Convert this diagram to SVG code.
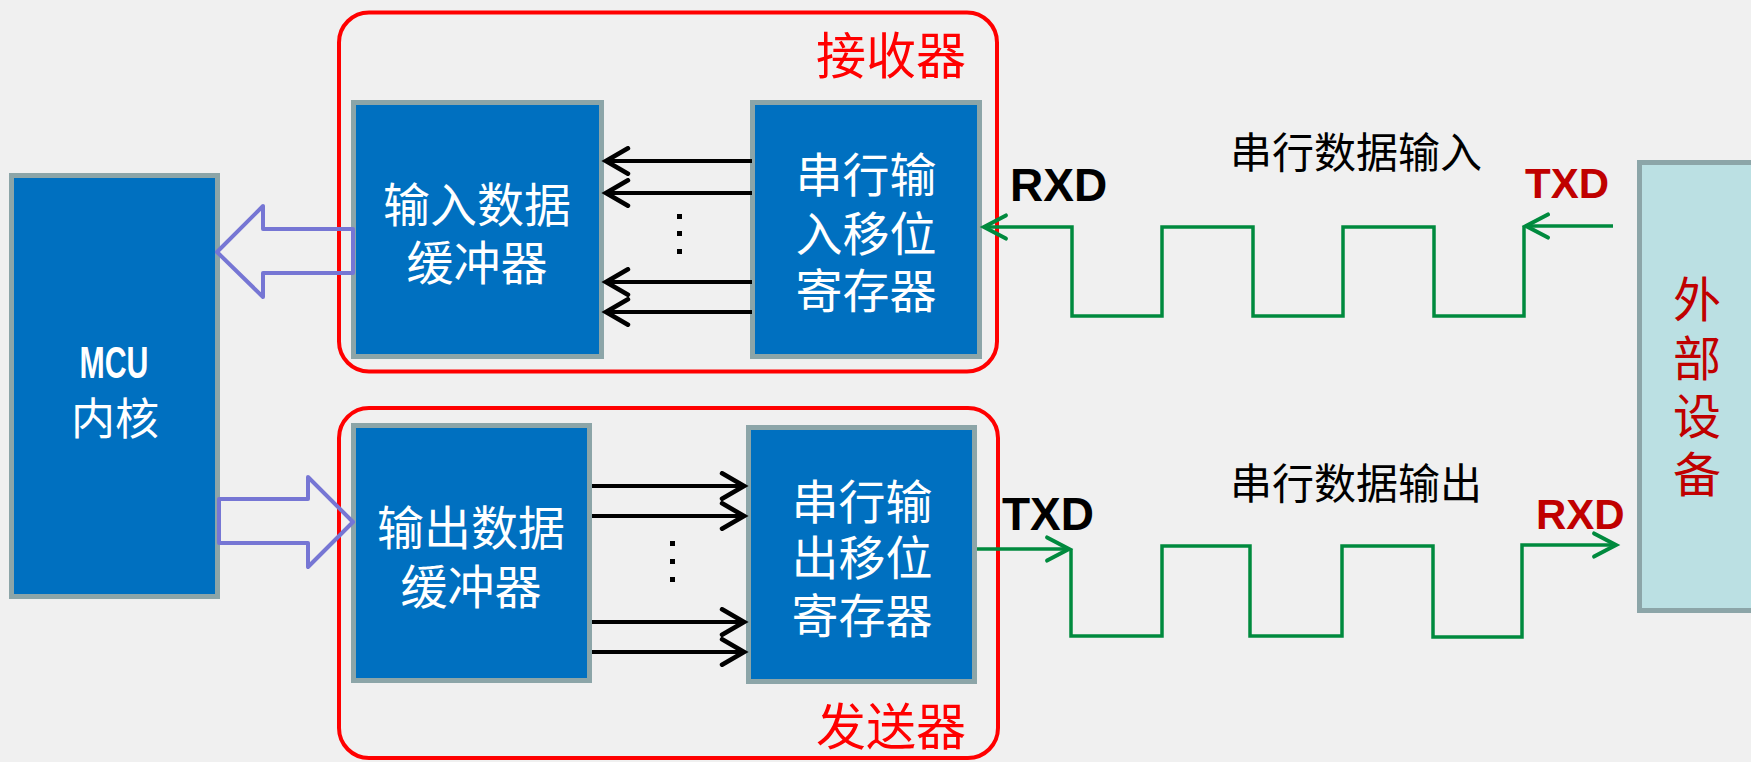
<svg xmlns="http://www.w3.org/2000/svg" width="1751" height="762" viewBox="0 0 1751 762">
<style>
.blk{fill:#0070C0;stroke:#8CA5A8;stroke-width:5}
.ext{fill:#BBE0E3;stroke:#8CA5A8;stroke-width:5}
.grp{fill:none;stroke:#FF0000;stroke-width:4}
.wt{font-family:"Noto Sans CJK SC","Noto Sans",sans-serif;fill:#FFFFFF;text-anchor:middle}
.rd{font-family:"Noto Sans CJK SC",sans-serif;fill:#FF0000;font-size:50px;text-anchor:middle}
.bk{font-family:"Noto Sans CJK SC",sans-serif;fill:#000000;font-size:42px;text-anchor:middle}
.lbl{font-family:"Liberation Sans",Arial,sans-serif;font-weight:bold}
.bus{stroke:#000;stroke-width:4;fill:none}
.wave{stroke:#008A3E;stroke-width:3.5;fill:none}
.hol{fill:none;stroke:#7676D4;stroke-width:4;stroke-linejoin:round}
</style>
<defs>
<marker id="ab" markerUnits="userSpaceOnUse" markerWidth="30" markerHeight="30" viewBox="-22 -13 26 26" refX="0" refY="0" orient="auto">
<path d="M-19,-11 L0,0 L-19,11" fill="none" stroke="#000" stroke-width="4" stroke-linecap="round" stroke-linejoin="miter"/>
</marker>
<marker id="ag" markerUnits="userSpaceOnUse" markerWidth="30" markerHeight="30" viewBox="-22 -13 26 26" refX="0" refY="0" orient="auto">
<path d="M-19,-10 L0,0 L-19,10" fill="none" stroke="#008A3E" stroke-width="3.5" stroke-linecap="round" stroke-linejoin="miter"/>
</marker>
</defs>
<rect width="1751" height="762" fill="#F0F0F0"/>

<g id="receiver">
<rect class="grp" x="339" y="12.5" width="658" height="359" rx="30"/>
<text class="rd" x="891" y="74">接收器</text>
</g>
<g id="transmitter">
<rect class="grp" x="339" y="408" width="659" height="350" rx="30"/>
<text class="rd" x="891" y="745">发送器</text>
</g>

<g id="mcu">
<rect class="blk" x="11.5" y="175.5" width="206" height="421"/>
<text class="lbl" x="114" y="378" font-size="45" fill="#FFFFFF" text-anchor="middle" textLength="69" lengthAdjust="spacingAndGlyphs">MCU</text>
<text class="wt" x="115" y="435" font-size="44">内核</text>
</g>

<g id="in-buffer">
<rect class="blk" x="353.5" y="102.5" width="248" height="254"/>
<text class="wt" font-size="47"><tspan x="477" y="222">输入数据</tspan><tspan x="477" y="280">缓冲器</tspan></text>
</g>

<g id="in-shift">
<rect class="blk" x="752.5" y="102.5" width="227" height="254"/>
<text class="wt" font-size="47"><tspan x="866" y="192">串行输</tspan><tspan x="866" y="251">入移位</tspan><tspan x="866" y="308">寄存器</tspan></text>
</g>

<g id="out-buffer">
<rect class="blk" x="353.5" y="425.5" width="236" height="255"/>
<text class="wt" font-size="47"><tspan x="471" y="545">输出数据</tspan><tspan x="471" y="604">缓冲器</tspan></text>
</g>

<g id="out-shift">
<rect class="blk" x="748.5" y="427.5" width="226" height="254"/>
<text class="wt" font-size="47"><tspan x="862" y="519">串行输</tspan><tspan x="862" y="575">出移位</tspan><tspan x="862" y="633">寄存器</tspan></text>
</g>

<g id="external">
<rect class="ext" x="1639.5" y="162.5" width="130" height="448"/>
<text font-family="Noto Sans CJK SC,sans-serif" font-size="48" fill="#C00000" text-anchor="middle"><tspan x="1697" y="317">外</tspan><tspan x="1697" y="376">部</tspan><tspan x="1697" y="434">设</tspan><tspan x="1697" y="492">备</tspan></text>
</g>

<g id="connectors">
<polygon class="hol" points="217,252 263,206 263,229 353,229 353,273 263,273 263,297"/>
<polygon class="hol" points="219,499 308,499 308,477 353,522 308,567 308,543 219,543"/>

<line class="bus" x1="752" y1="161" x2="606" y2="161" marker-end="url(#ab)"/>
<line class="bus" x1="752" y1="193" x2="606" y2="193" marker-end="url(#ab)"/>
<line class="bus" x1="752" y1="282" x2="606" y2="282" marker-end="url(#ab)"/>
<line class="bus" x1="752" y1="312" x2="606" y2="312" marker-end="url(#ab)"/>
<rect x="677" y="214" width="5" height="5" fill="#000"/>
<rect x="677" y="231" width="5" height="5" fill="#000"/>
<rect x="677" y="249" width="5" height="5" fill="#000"/>

<line class="bus" x1="592" y1="486" x2="744" y2="486" marker-end="url(#ab)"/>
<line class="bus" x1="592" y1="516" x2="744" y2="516" marker-end="url(#ab)"/>
<line class="bus" x1="592" y1="622" x2="744" y2="622" marker-end="url(#ab)"/>
<line class="bus" x1="592" y1="652" x2="744" y2="652" marker-end="url(#ab)"/>
<rect x="670" y="541" width="5" height="5" fill="#000"/>
<rect x="670" y="559" width="5" height="5" fill="#000"/>
<rect x="670" y="577" width="5" height="5" fill="#000"/>

<path class="wave" d="M1613,226 H1526" marker-end="url(#ag)"/>
<path class="wave" d="M1524,226 V316 H1434 V227 H1343 V316 H1253 V227 H1162 V316 H1072 V227 H984" marker-end="url(#ag)"/>
<path class="wave" d="M977,549 H1069" marker-end="url(#ag)"/>
<path class="wave" d="M1071,549 V636 H1162 V546 H1250 V636 H1342 V546 H1433 V637 H1522 V545 H1616" marker-end="url(#ag)"/>
</g>

<g id="labels">
<text class="bk" x="1356" y="168">串行数据输入</text>
<text class="bk" x="1356" y="499">串行数据输出</text>
<text class="lbl" x="1010" y="201" font-size="46" fill="#000">RXD</text>
<text class="lbl" x="1002" y="530" font-size="46" fill="#000">TXD</text>
<text class="lbl" x="1525" y="198" font-size="42" fill="#C00000">TXD</text>
<text class="lbl" x="1536" y="529" font-size="42" fill="#C00000">RXD</text>
</g>
</svg>
